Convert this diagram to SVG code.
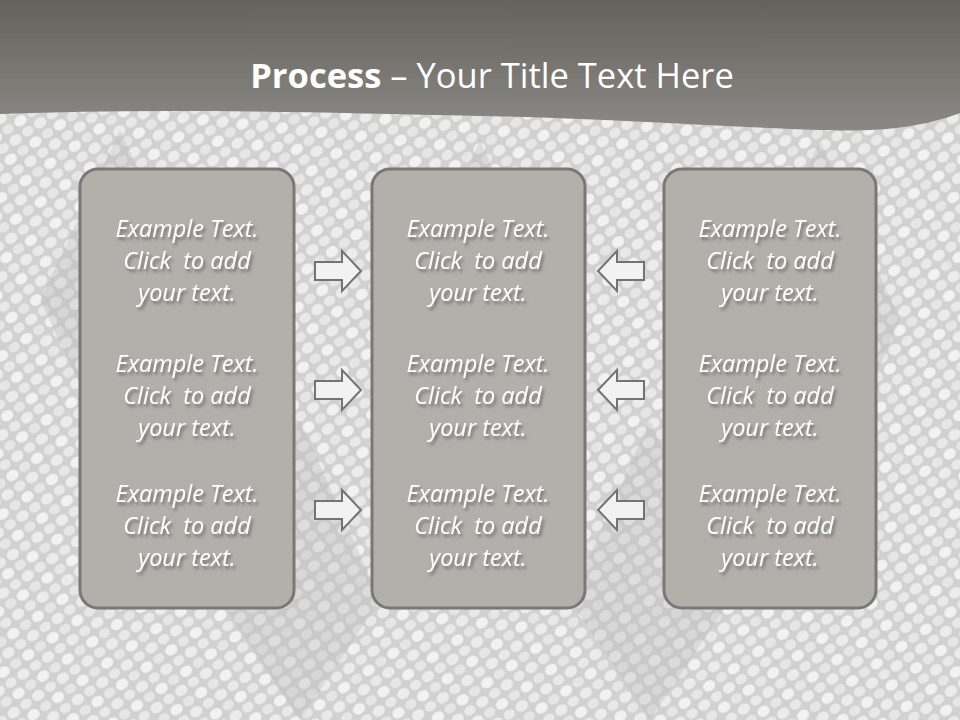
<svg xmlns="http://www.w3.org/2000/svg" width="960" height="720" viewBox="0 0 960 720">
<defs>
<linearGradient id="hdr" x1="0" y1="0" x2="0" y2="1">
<stop offset="0" stop-color="#65625d"/>
<stop offset="1" stop-color="#8b8985"/>
</linearGradient>
<pattern id="scales" width="30" height="26" patternUnits="userSpaceOnUse" patternTransform="rotate(-35)">
<rect width="30" height="26" fill="#c6c6c6"/>
<ellipse cx="7.5" cy="6.5" rx="6.5" ry="5.3" fill="#efefef"/>
<ellipse cx="22.5" cy="19.5" rx="6.5" ry="5.3" fill="#e8e8e8"/>
<ellipse cx="22.5" cy="6.5" rx="6" ry="4.8" fill="#e0e0e0"/>
<ellipse cx="7.5" cy="19.5" rx="6" ry="4.8" fill="#e4e4e4"/>
</pattern>
<filter id="sh" x="-10%" y="-30%" width="130%" height="170%">
<feDropShadow dx="2" dy="3" stdDeviation="1.5" flood-color="#555" flood-opacity="0.7"/>
</filter>
</defs>
<style>
.box{fill:#b3b0ac;stroke:#7a7876;stroke-width:3}
.t{font-family:"Open Sans","Liberation Sans",sans-serif;font-style:italic;font-size:23.5px;fill:#ffffff;text-anchor:middle;filter:url(#sh);white-space:pre}
.arr{fill:#f2f2f2;stroke:#737373;stroke-width:2;stroke-linejoin:miter}
.title{font-family:"Open Sans","Liberation Sans",sans-serif;font-size:34.5px;fill:#ffffff;text-anchor:middle}
</style>
<rect width="960" height="720" fill="url(#scales)"/>
<g opacity="0.35" fill="#a9a9a9">
<path d="M120 130 L200 300 L120 470 L40 300 Z"/>
<path d="M480 140 L560 320 L480 500 L400 320 Z"/>
<path d="M820 140 L900 320 L820 500 L740 320 Z"/>
<path d="M300 420 L380 600 L300 720 L220 600 Z"/>
<path d="M650 420 L730 600 L650 720 L570 600 Z"/>
</g>
<rect width="960" height="720" fill="#ffffff" opacity="0.2"/>
<g id="header">
<path d="M0 0 H960 V113 C920 128 880 132 820 130 C700 126 600 118 480 116 C300 112 150 108 0 114 Z" fill="url(#hdr)"/>
<text class="title" x="492" y="88"><tspan font-weight="bold">Process</tspan> – Your Title Text Here</text>
</g>
<g id="box-left">
<rect class="box" x="80" y="169" width="214" height="439" rx="18"/>
<text class="t" x="187"><tspan x="187" y="237">Example Text.</tspan><tspan x="187" y="269">Click  to add</tspan><tspan x="187" y="301">your text.</tspan></text>
<text class="t" x="187"><tspan x="187" y="372">Example Text.</tspan><tspan x="187" y="404">Click  to add</tspan><tspan x="187" y="436">your text.</tspan></text>
<text class="t" x="187"><tspan x="187" y="502">Example Text.</tspan><tspan x="187" y="534">Click  to add</tspan><tspan x="187" y="566">your text.</tspan></text>
</g>
<g id="box-middle">
<rect class="box" x="372" y="169" width="213" height="439" rx="18"/>
<text class="t" x="478"><tspan x="478" y="237">Example Text.</tspan><tspan x="478" y="269">Click  to add</tspan><tspan x="478" y="301">your text.</tspan></text>
<text class="t" x="478"><tspan x="478" y="372">Example Text.</tspan><tspan x="478" y="404">Click  to add</tspan><tspan x="478" y="436">your text.</tspan></text>
<text class="t" x="478"><tspan x="478" y="502">Example Text.</tspan><tspan x="478" y="534">Click  to add</tspan><tspan x="478" y="566">your text.</tspan></text>
</g>
<g id="box-right">
<rect class="box" x="664" y="169" width="212" height="439" rx="18"/>
<text class="t" x="770"><tspan x="770" y="237">Example Text.</tspan><tspan x="770" y="269">Click  to add</tspan><tspan x="770" y="301">your text.</tspan></text>
<text class="t" x="770"><tspan x="770" y="372">Example Text.</tspan><tspan x="770" y="404">Click  to add</tspan><tspan x="770" y="436">your text.</tspan></text>
<text class="t" x="770"><tspan x="770" y="502">Example Text.</tspan><tspan x="770" y="534">Click  to add</tspan><tspan x="770" y="566">your text.</tspan></text>
</g>
<g id="connectors">
<path class="arr" d="M315 262 H342 V251 L361 271 L342 291 V280 H315 Z"/>
<path class="arr" d="M315 381 H342 V370 L361 390 L342 410 V399 H315 Z"/>
<path class="arr" d="M315 501 H342 V490 L361 510 L342 530 V519 H315 Z"/>
<path class="arr" d="M644 262 H617 V251 L598 271 L617 291 V280 H644 Z"/>
<path class="arr" d="M644 381 H617 V370 L598 390 L617 410 V399 H644 Z"/>
<path class="arr" d="M644 501 H617 V490 L598 510 L617 530 V519 H644 Z"/>
</g>
</svg>
